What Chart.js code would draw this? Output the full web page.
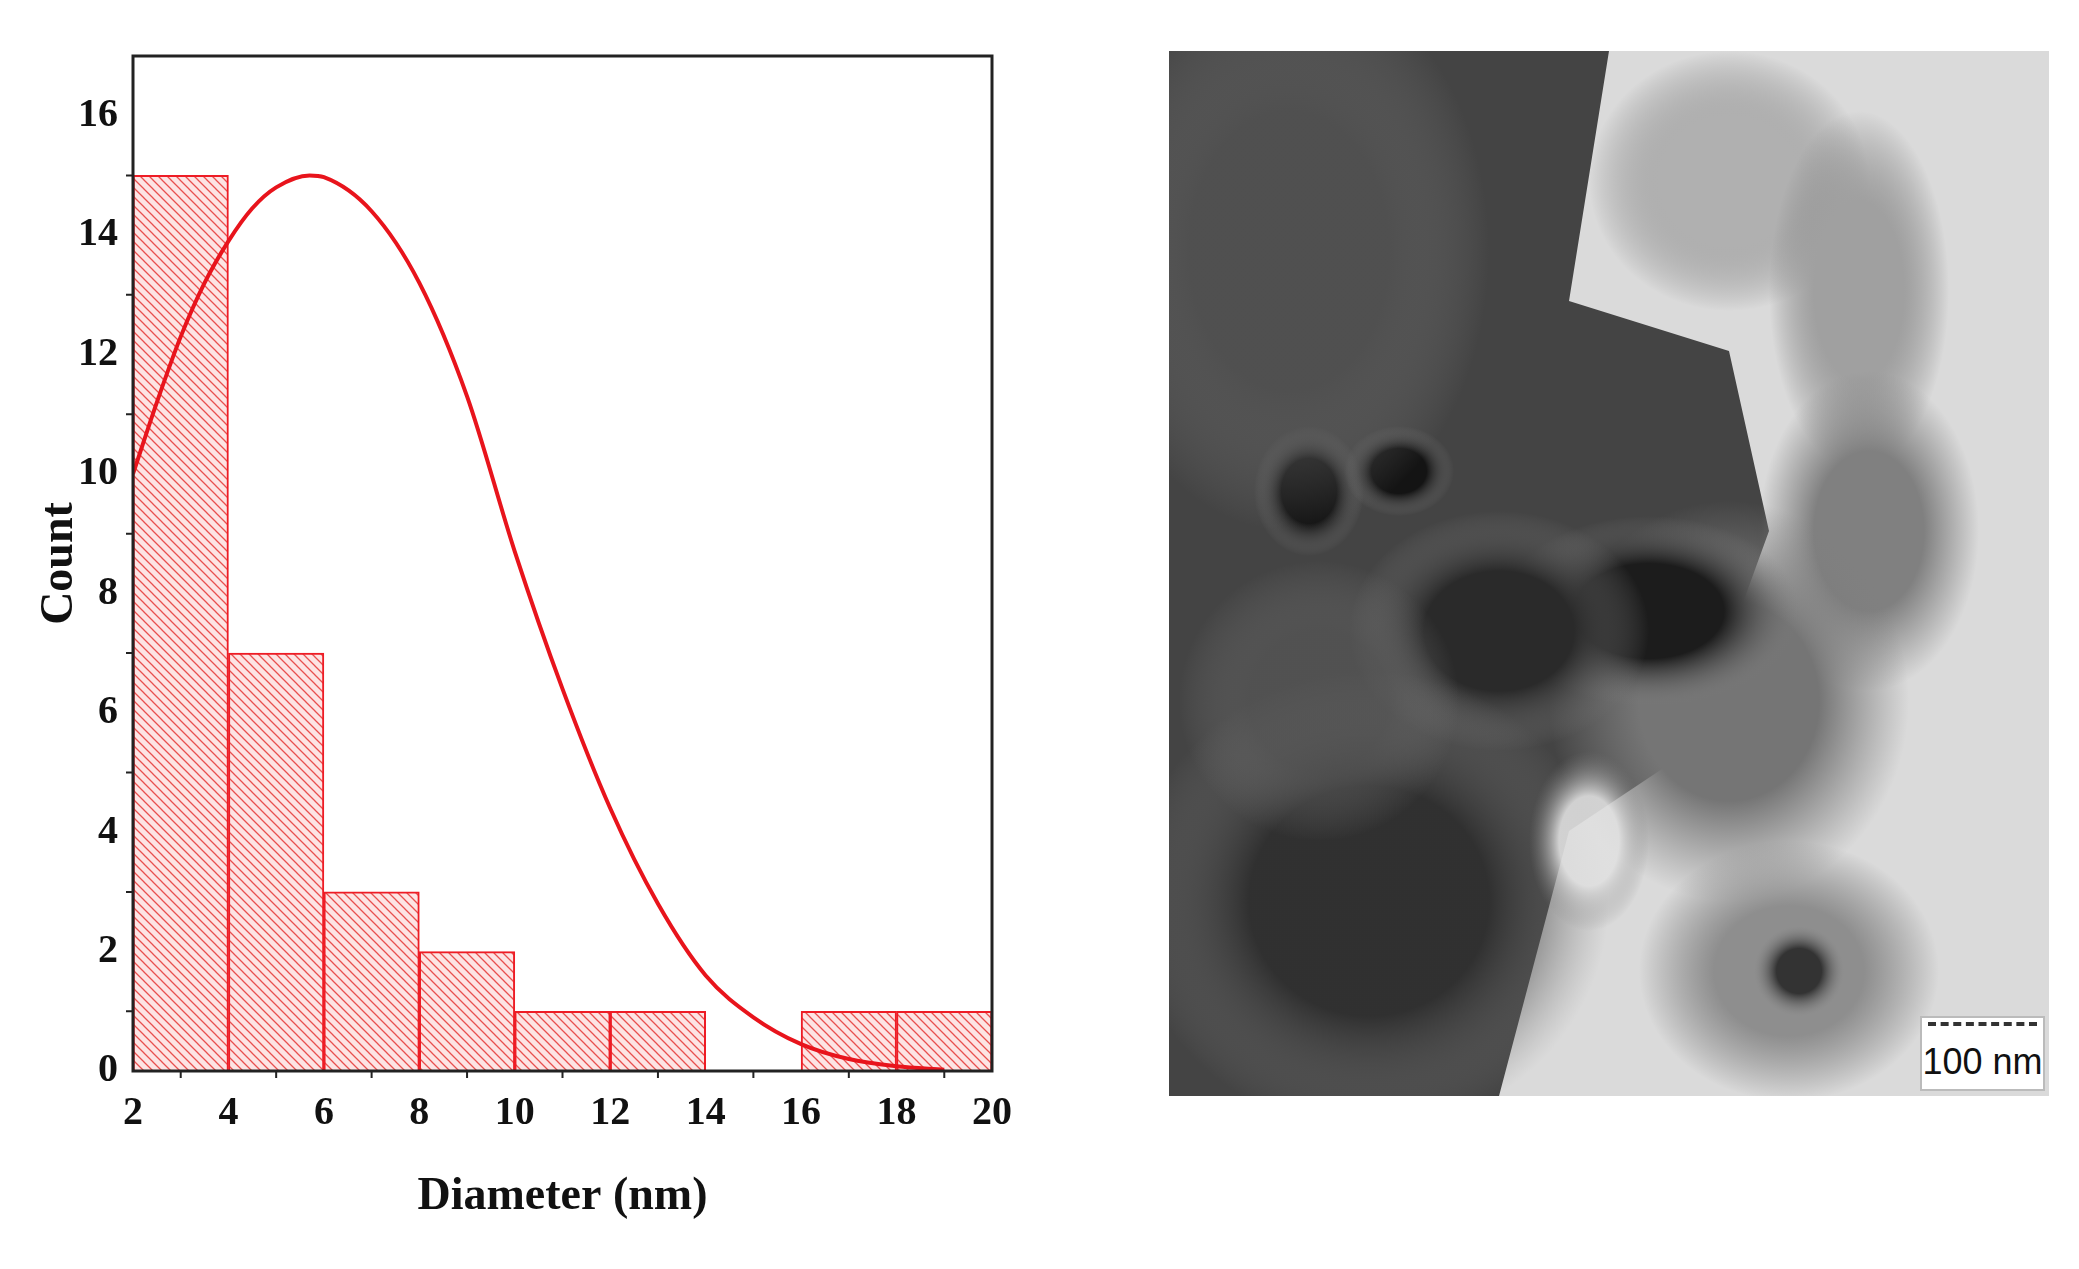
<!DOCTYPE html>
<html><head><meta charset="utf-8">
<script src="https://cdn.jsdelivr.net/npm/chart.js@4"></script>
<style>html,body{margin:0;padding:0;background:#fff;overflow:hidden}
#wrap{position:absolute;left:0;top:0;width:2079px;height:1269px}
#tem{position:absolute;left:1169px;top:51px;width:880px;height:1045px}
#bar{position:absolute;left:1920px;top:1016px;width:125px;height:75px;background:#fff;border:2px solid #bbb;box-sizing:border-box;font:36px "Liberation Sans",Arial,sans-serif;color:#111;display:flex;align-items:flex-end;justify-content:center;padding-bottom:6px}
#bar:before{content:"";position:absolute;left:6px;right:6px;top:4px;border-top:4px dashed #333}
</style></head><body>
<div id="wrap"><canvas id="c" width="2079" height="1269"></canvas></div>
<canvas id="tem" width="880" height="1045"></canvas>
<div id="bar">100 nm</div>
<script>
const binCenters=[3,5,7,9,11,13,15,17,19];
const binCounts=[15,7,3,2,1,1,0,1,1];
const fitX=[2,2.5,3,3.5,4,4.5,5,5.7,6,7,8,9,10,11,12,13,14,15,16,17,18,19];
const fitY=[10,11.2,12.3,13.2,13.9,14.45,14.8,15,14.97,14.4,13.2,11.3,8.7,6.4,4.4,2.8,1.6,0.9,0.45,0.2,0.08,0.02];
const xTicks=[2,4,6,8,10,12,14,16,18,20];
const yTicks=[0,2,4,6,8,10,12,14,16];

function hatch(){const p=document.createElement('canvas');p.width=9;p.height=9;const g=p.getContext('2d');
g.fillStyle='#fde4e4';g.fillRect(0,0,9,9);g.strokeStyle='#e8504f';g.lineWidth=1.3;
g.beginPath();g.moveTo(-1,-1);g.lineTo(10,10);g.moveTo(-1,8);g.lineTo(1,10);g.moveTo(8,-1);g.lineTo(10,1);g.stroke();
return document.getElementById('c').getContext('2d').createPattern(p,'repeat');}

const serif='"Liberation Serif","Times New Roman",serif';
const frame={id:'frame',afterDraw(ch){const {ctx,chartArea:a,scales:{x,y}}=ch;ctx.save();ctx.strokeStyle='#222';ctx.lineWidth=3;
ctx.strokeRect(a.left,a.top,a.right-a.left,a.bottom-a.top);ctx.lineWidth=2;ctx.beginPath();
for(let v=3;v<20;v+=2){const px=x.getPixelForValue(v);ctx.moveTo(px,a.bottom);ctx.lineTo(px,a.bottom+7);}
for(let v=1;v<17;v+=2){const py=y.getPixelForValue(v);ctx.moveTo(a.left,py);ctx.lineTo(a.left-7,py);}
ctx.stroke();ctx.restore();}};

new Chart(document.getElementById('c'),{
data:{datasets:[
{type:'line',data:fitX.map((v,i)=>({x:v,y:fitY[i]})),borderColor:'#e8141c',borderWidth:4,pointRadius:0,cubicInterpolationMode:'monotone',order:0},
{type:'bar',data:binCenters.map((v,i)=>({x:v,y:binCounts[i]})),backgroundColor:hatch(),borderColor:'#ee1c25',borderWidth:2,barPercentage:1,categoryPercentage:1,grouped:false,order:1}
]},
options:{responsive:false,animation:false,devicePixelRatio:1,
layout:{padding:{left:33,right:1087,top:56,bottom:40}},
plugins:{legend:{display:false},tooltip:{enabled:false}},
scales:{
x:{type:'linear',offset:false,min:2,max:20,afterBuildTicks(s){s.ticks=xTicks.map(v=>({value:v}));},
afterFit(s){s.height=158;},
grid:{display:false,offset:false,drawTicks:true,tickLength:13,tickColor:'#222',tickWidth:2},border:{display:false},
ticks:{color:'#111',font:{family:serif,size:40,weight:'bold'},padding:6,maxRotation:0},
title:{display:true,text:'Diameter (nm)',color:'#111',font:{family:serif,size:46,weight:'bold'},padding:{top:24}}},
y:{min:0,max:17,afterBuildTicks(s){s.ticks=yTicks.map(v=>({value:v}));},
afterFit(s){s.width=100;},
grid:{display:false,drawTicks:true,tickLength:13,tickColor:'#222',tickWidth:2},border:{display:false},
ticks:{color:'#111',font:{family:serif,size:40,weight:'bold'},padding:2},
title:{display:true,text:'Count',color:'#111',font:{family:serif,size:46,weight:'bold'},padding:0}}
}},plugins:[frame]});

(function(){const c=document.getElementById('tem'),g=c.getContext('2d');
function blob(x,y,rx,ry,col,a){g.save();g.translate(x,y);g.scale(rx,ry);const r=g.createRadialGradient(0,0,0,0,0,1);
r.addColorStop(0,col);r.addColorStop(0.5,col);r.addColorStop(1,'rgba(128,128,128,0)');g.globalAlpha=a;g.fillStyle=r;g.beginPath();g.arc(0,0,1,0,7);g.fill();g.restore();}
g.fillStyle='#dadada';g.fillRect(0,0,880,1045);
g.fillStyle='#444';g.beginPath();g.moveTo(0,0);g.lineTo(440,0);g.lineTo(400,250);g.lineTo(560,300);g.lineTo(600,480);g.lineTo(520,700);g.lineTo(400,780);g.lineTo(330,1045);g.lineTo(0,1045);g.closePath();g.fill();
blob(560,130,140,130,'#b0b0b0',1);blob(690,240,90,180,'#a0a0a0',1);blob(700,480,110,160,'#808080',1);
blob(560,650,180,200,'#757575',1);blob(620,920,150,130,'#8e8e8e',1);blob(630,920,45,45,'#333',1);
blob(480,560,150,95,'#1c1c1c',1);blob(330,580,150,120,'#2a2a2a',1);blob(140,440,55,65,'#141414',1);blob(230,420,55,45,'#141414',1);
blob(120,200,200,280,'#555',0.7);blob(200,850,240,230,'#2e2e2e',0.9);blob(420,790,60,90,'#e0e0e0',0.9);blob(150,650,140,140,'#5a5a5a',0.6);
})();
</script></body></html>
